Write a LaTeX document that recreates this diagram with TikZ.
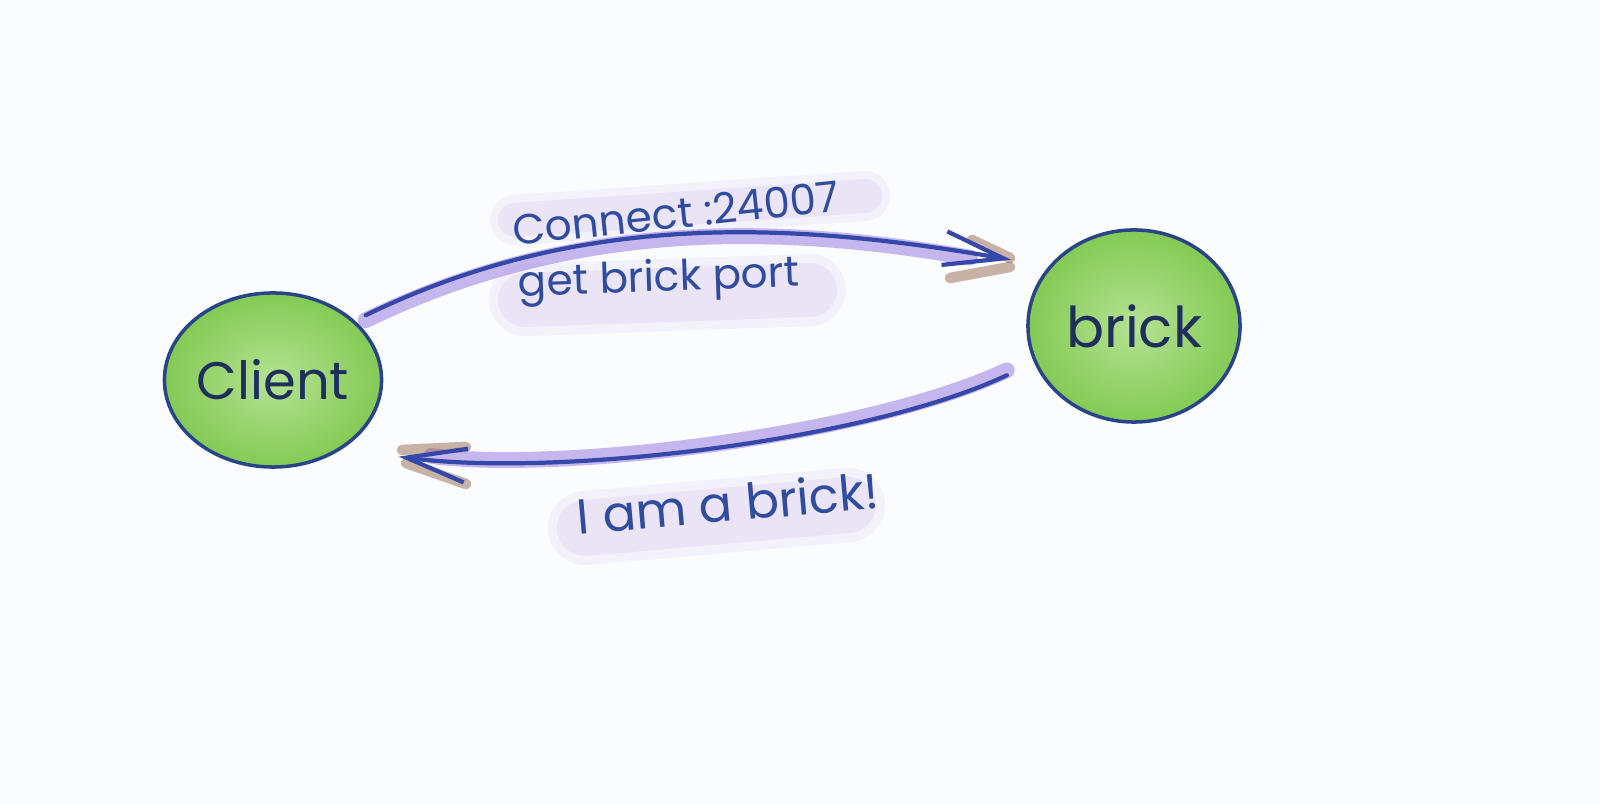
\documentclass[tikz,border=0pt]{standalone}
\usepackage{fontspec}
\usetikzlibrary{shapes.geometric,arrows.meta}
\newfontfamily\hand{Poppins}
\definecolor{bgc}{HTML}{FAFCFD}
\definecolor{edgeblue}{HTML}{2A4488}
\definecolor{lightgreen}{HTML}{B4E292}
\definecolor{midgreen}{HTML}{84CA55}
\definecolor{inkdark}{HTML}{1E2F5E}
\definecolor{inkblue}{HTML}{2F4C9E}
\definecolor{lineblue}{HTML}{3548AA}
\definecolor{glowpurple}{HTML}{9A7FE2}
\definecolor{lavender}{HTML}{D9C5EF}
\definecolor{brownish}{HTML}{8A5A3A}
\tikzset{
  blob/.style={ellipse, draw=edgeblue, line width=1pt, inner color=lightgreen,
    outer color=midgreen, inner sep=0pt, text=inkdark},
  lbl/.style={text=inkblue, font=\hand\fontsize{12}{14}\selectfont, inner sep=1pt},
  flow/.style={draw=lineblue, line width=1.2pt, line cap=round},
  glow/.style={draw=glowpurple, line width=4.5pt, opacity=0.55, line cap=round},
  hilite/.style={draw=lavender, opacity=0.3, line cap=round},
  hilitewide/.style={draw=lavender, opacity=0.2, line cap=round},
  brownglow/.style={draw=brownish, line width=3pt, opacity=0.45, line cap=round},
  barb/.style={-{Straight Barb[length=0.6cm, width=0.34cm, line width=1.2pt]}}
}
\begin{document}
\begin{tikzpicture}[x=0.01cm, y=-0.01cm]
\fill[bgc] (0,0) rectangle (1600,804);
\useasboundingbox (0,0) rectangle (1600,804);

% highlights behind labels
\draw[hilitewide, line width=0.50cm] (515,220) -- (865,196);
\draw[hilite, line width=0.34cm] (515,220) -- (865,196);
\draw[hilitewide, line width=0.72cm] (525,300) -- (810,290);
\draw[hilite, line width=0.54cm] (525,300) -- (810,290);
\draw[hilitewide, line width=0.74cm] (585,528) -- (848,505);
\draw[hilite, line width=0.56cm] (585,528) -- (848,505);

% nodes
\node[blob, minimum width=2.17cm, minimum height=1.74cm,
      font=\hand\fontsize{15}{18}\selectfont] (client) at (273,380) {Client};
\node[blob, minimum width=2.12cm, minimum height=1.92cm,
      font=\hand\fontsize{16}{19}\selectfont] (brick) at (1134,326) {brick};

% glows along the connectors
\draw[glow, transform canvas={yshift=-0.05cm}, shorten <=0.12cm, shorten >=0.8cm]
  (client.36) .. controls (582,210) and (793,222) .. (brick.145);
\draw[glow, transform canvas={yshift=0.05cm}, shorten <=0.30cm, shorten >=0.9cm]
  (brick.200) .. controls (870,440) and (560,478) .. (client.-45);

% brown shading at the arrow heads
\draw[brownglow] (972,240) -- (1010,258);
\draw[brownglow] (950,278) -- (1010,267);
\draw[brownglow] (402,450) -- (466,447);
\draw[brownglow] (406,463) -- (466,484);

% connectors
\draw[flow, barb, shorten <=0.12cm, shorten >=0.38cm]
  (client.36) .. controls (582,210) and (793,222) .. (brick.145);
\draw[flow, barb, shorten <=0.30cm, shorten >=0.57cm]
  (brick.200) .. controls (870,440) and (560,478) .. (client.-45);

% labels
\node[lbl, rotate=6] (t1) at (676,213) {Connect :24007};
\node[lbl, rotate=2] (t2) at (659,281) {get brick port};
\node[lbl, rotate=5, font=\hand\fontsize{14}{16}\selectfont] (t3) at (728,503) {I am a brick!};
\end{tikzpicture}
\end{document}
